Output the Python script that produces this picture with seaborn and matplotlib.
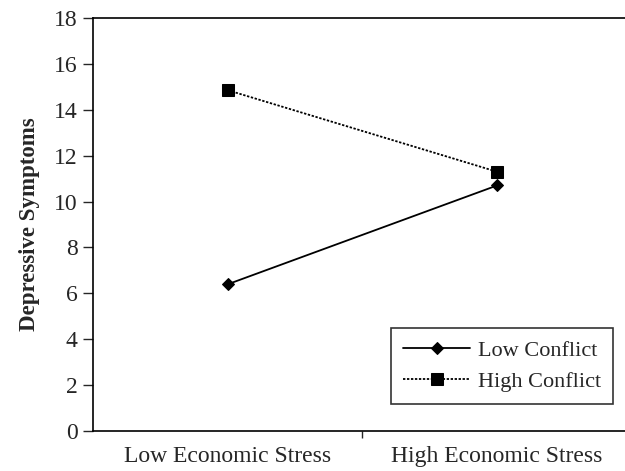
import matplotlib
matplotlib.use("Agg")
import matplotlib.pyplot as plt
import pandas as pd
import seaborn as sns

categories = ["Low Economic Stress", "High Economic Stress"]
groups = ["Low Conflict", "High Conflict"]
low_conflict = [6.4, 10.7]
high_conflict = [14.85, 11.3]
y_ticks = [0, 2, 4, 6, 8, 10, 12, 14, 16, 18]

df = pd.DataFrame({
    "stress": categories * 2,
    "group": [groups[0]] * 2 + [groups[1]] * 2,
    "symptoms": low_conflict + high_conflict,
})

sns.set_style("white")
plt.rcParams["font.family"] = ["Liberation Serif", "DejaVu Serif"]

fig = plt.figure(figsize=(6.25, 4.71), dpi=100)
ax = fig.add_axes([93 / 625, 40 / 471, 532 / 625, 413 / 471])

sns.lineplot(
    data=df, x="stress", y="symptoms", hue="group", style="group",
    palette=["black", "black"], markers={"Low Conflict": "D", "High Conflict": "s"},
    dashes={"Low Conflict": "", "High Conflict": (1.3, 0.9)},
    markersize=7, linewidth=1.3, markeredgecolor="black", ax=ax,
)
for line in ax.lines:
    if line.get_marker() == "D":
        line.set_markersize(6)
    else:
        line.set_markersize(8)

ax.set_xlim(-0.502, 1.476)
ax.set_ylim(0, 18)
ax.set_yticks(y_ticks)
ax.set_xticks([0.5], minor=False)
ax.set_xticks([0, 1], minor=True)
ax.set_xticklabels([""])
ax.set_xticklabels(categories, minor=True)
ax.tick_params(axis="x", which="minor", length=0, pad=11, labelsize=17)
ax.tick_params(axis="x", which="major", length=5, width=1, direction="out", bottom=True)
ax.tick_params(axis="y", length=7, width=1, direction="out", left=True, labelsize=17, pad=4)

for side in ["left", "bottom", "top"]:
    ax.spines[side].set_visible(True)
    ax.spines[side].set_color("black")
    ax.spines[side].set_linewidth(1.2)
ax.spines["right"].set_visible(False)

ax.set_xlabel("")
ax.set_ylabel("Depressive Symptoms", fontsize=16.5, fontweight="bold", labelpad=10)

leg = ax.legend(
    loc="lower right", bbox_to_anchor=(613 / 625 * 625 / 532 - 93 / 532, (431 - 404) / 413),
    frameon=True, fancybox=False, edgecolor="black", fontsize=16,
    handlelength=3.0, handletextpad=0.35, borderpad=0.55, labelspacing=0.45,
    borderaxespad=0, title=None,
)
leg.get_frame().set_linewidth(1.2)

fig.savefig("out.png", dpi=100)
